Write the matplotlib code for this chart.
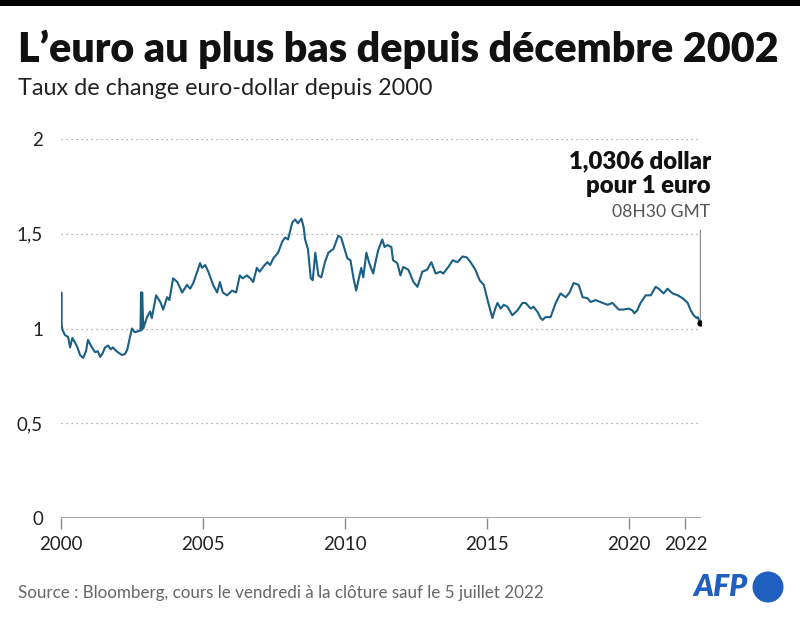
import matplotlib
matplotlib.use("Agg")
import matplotlib.pyplot as plt
from matplotlib.patches import Ellipse, Rectangle

# ---- data (decimal year, EUR/USD) ----
years = [2000.00, 2000.01, 2000.02, 2000.06, 2000.14, 2000.25, 2000.32, 2000.40, 2000.48,
         2000.58, 2000.67, 2000.78, 2000.88, 2000.95, 2001.09, 2001.20, 2001.30, 2001.38,
         2001.47, 2001.55, 2001.66, 2001.75, 2001.83, 2001.92, 2002.00, 2002.15, 2002.25,
         2002.33, 2002.43, 2002.50, 2002.60, 2002.70, 2002.80, 2002.82, 2002.83, 2002.86,
         2002.90, 2003.03, 2003.14, 2003.20, 2003.35, 2003.50, 2003.60, 2003.74, 2003.82,
         2003.95, 2004.10, 2004.27, 2004.44, 2004.55, 2004.66, 2004.80, 2004.90, 2004.97,
         2005.08, 2005.19, 2005.36, 2005.50, 2005.60, 2005.70, 2005.85, 2006.03, 2006.17,
         2006.30, 2006.40, 2006.55, 2006.67, 2006.77, 2006.90, 2007.00, 2007.15, 2007.27,
         2007.37, 2007.48, 2007.65, 2007.80, 2007.90, 2008.00, 2008.15, 2008.25, 2008.35,
         2008.47, 2008.55, 2008.60, 2008.70, 2008.80, 2008.87, 2008.96, 2009.07, 2009.17,
         2009.30, 2009.42, 2009.60, 2009.77, 2009.87, 2009.95, 2010.09, 2010.20, 2010.30,
         2010.40, 2010.48, 2010.58, 2010.65, 2010.76, 2010.86, 2011.00, 2011.08, 2011.18,
         2011.32, 2011.40, 2011.50, 2011.64, 2011.70, 2011.85, 2011.96, 2012.06, 2012.24,
         2012.42, 2012.56, 2012.73, 2012.90, 2013.05, 2013.20, 2013.37, 2013.47, 2013.65,
         2013.80, 2013.97, 2014.15, 2014.30, 2014.43, 2014.60, 2014.75, 2014.90, 2015.03,
         2015.20, 2015.30, 2015.38, 2015.49, 2015.60, 2015.73, 2015.90, 2016.08, 2016.26,
         2016.37, 2016.55, 2016.65, 2016.80, 2016.90, 2016.97, 2017.07, 2017.25, 2017.43,
         2017.60, 2017.78, 2017.92, 2018.06, 2018.24, 2018.38, 2018.55, 2018.66, 2018.84,
         2019.00, 2019.26, 2019.43, 2019.65, 2019.82, 2020.00, 2020.14, 2020.20, 2020.30,
         2020.42, 2020.60, 2020.78, 2020.95, 2021.06, 2021.23, 2021.37, 2021.55, 2021.73,
         2021.90, 2022.08, 2022.19, 2022.29, 2022.40, 2022.44, 2022.51]
rates = [1.02, 1.19, 1.02, 0.99, 0.965, 0.955, 0.90, 0.95, 0.93,
         0.90, 0.86, 0.845, 0.88, 0.94, 0.90, 0.875, 0.88, 0.85,
         0.87, 0.90, 0.91, 0.89, 0.90, 0.885, 0.875, 0.86, 0.865,
         0.886, 0.955, 1.00, 0.98, 0.985, 0.99, 1.19, 0.99, 1.19,
         1.00, 1.06, 1.09, 1.055, 1.175, 1.14, 1.10, 1.165, 1.15,
         1.265, 1.245, 1.19, 1.23, 1.21, 1.24, 1.30, 1.345, 1.32,
         1.335, 1.30, 1.23, 1.19, 1.245, 1.19, 1.175, 1.20, 1.19,
         1.28, 1.265, 1.28, 1.265, 1.245, 1.32, 1.30, 1.33, 1.35,
         1.335, 1.37, 1.40, 1.46, 1.48, 1.47, 1.56, 1.575, 1.555,
         1.58, 1.535, 1.47, 1.42, 1.265, 1.255, 1.40, 1.28, 1.27,
         1.35, 1.40, 1.42, 1.49, 1.48, 1.44, 1.37, 1.36, 1.27,
         1.20, 1.255, 1.32, 1.27, 1.40, 1.345, 1.29, 1.35, 1.415,
         1.47, 1.43, 1.44, 1.43, 1.36, 1.345, 1.28, 1.325, 1.31,
         1.245, 1.22, 1.30, 1.31, 1.35, 1.29, 1.30, 1.29, 1.325,
         1.36, 1.35, 1.38, 1.375, 1.35, 1.31, 1.255, 1.23, 1.15,
         1.055, 1.105, 1.135, 1.105, 1.125, 1.115, 1.07, 1.095, 1.135,
         1.135, 1.105, 1.115, 1.085, 1.055, 1.045, 1.06, 1.06, 1.135,
         1.185, 1.165, 1.19, 1.24, 1.23, 1.165, 1.16, 1.14, 1.15,
         1.14, 1.125, 1.135, 1.10, 1.10, 1.105, 1.095, 1.08, 1.095,
         1.135, 1.175, 1.175, 1.22, 1.21, 1.185, 1.21, 1.185, 1.175,
         1.16, 1.135, 1.095, 1.07, 1.055, 1.06, 1.0306]

xticks = [2000, 2005, 2010, 2015, 2020, 2022]
xtick_labels = ["2000", "2005", "2010", "2015", "2020", "2022"]
yticks = [0, 0.5, 1, 1.5, 2]
ytick_labels = ["0", "0,5", "1", "1,5", "2"]

title = "L\u2019euro au plus bas depuis décembre 2002"
subtitle = "Taux de change euro-dollar depuis 2000"
source = "Source : Bloomberg, cours le vendredi à la clôture sauf le 5 juillet 2022"
annot_line1 = "1,0306 dollar"
annot_line2 = "pour 1 euro"
annot_time = "08H30 GMT"

FONT = "Lato"
LINE = "#1a5f85"
BLUE = "#1f5fbf"
W, H = 800, 618

fig = plt.figure(figsize=(8, 6.18), dpi=100)
fig.patch.set_facecolor("white")

# top black band
fig.add_artist(Rectangle((0, 1 - 6 / H), 1, 6 / H, transform=fig.transFigure,
                         color="black", lw=0))

ax = fig.add_axes([61 / W, (H - 518) / H, 640 / W, 379 / H])
ax.set_xlim(2000, 2022.55)
ax.set_ylim(0, 2)
for s in ax.spines.values():
    s.set_visible(False)

for yv in yticks[1:]:
    ax.axhline(yv, color="#9a9a9a", lw=0.9, ls=(0, (1, 3)), zorder=1)
ax.axhline(0, color="#8a8a8a", lw=1.1, zorder=2)

ax.plot(years, rates, color=LINE, lw=1.5, zorder=3, solid_joinstyle="round")
ax.plot([years[-1]], [rates[-1]], "o", color="black", ms=3.5, zorder=4)
ax.plot([years[-1], years[-1]], [rates[-1], 1.52], color="#8a8a8a", lw=1, zorder=2)

ax.set_xticks(xticks)
ax.set_xticklabels(xtick_labels)
ax.set_yticks(yticks)
ax.set_yticklabels(ytick_labels)
ax.tick_params(axis="x", length=8, width=1, color="#8a8a8a", pad=5,
               labelsize=13.5, labelcolor="#222222")
ax.tick_params(axis="y", length=0, pad=13, labelsize=13.5, labelcolor="#222222")
for lab in ax.get_xticklabels() + ax.get_yticklabels():
    lab.set_fontfamily(FONT)

a1 = fig.text(711 / W, 1 - 168 / H, annot_line1, ha="right", va="baseline", fontsize=17,
              fontweight="heavy", family=FONT, color="#111111")
a2 = fig.text(711 / W, 1 - 193 / H, annot_line2, ha="right", va="baseline", fontsize=17,
              fontweight="heavy", family=FONT, color="#111111")
a3 = fig.text(710 / W, 1 - 217 / H, annot_time, ha="right", va="baseline", fontsize=13,
              family=FONT, color="#555555")

t = fig.text(18 / W, 1 - 62 / H, title, ha="left", va="baseline", fontsize=30,
             fontweight="heavy", family=FONT, color="#111111")
st = fig.text(18 / W, 1 - 95 / H, subtitle, ha="left", va="baseline", fontsize=15.5,
              family=FONT, color="#222222")
src = fig.text(18 / W, 1 - 598 / H, source, ha="left", va="baseline", fontsize=12,
               family=FONT, color="#666666")
logo = fig.text(748 / W, 1 - 596 / H, "AFP", ha="right", va="baseline", fontsize=18,
                fontweight="heavy", fontstyle="italic", family=FONT, color=BLUE)

# fit widths of texts to the reference
fig.canvas.draw()
r = fig.canvas.get_renderer()
for txt, target in [(t, 760), (st, 414), (src, 527), (a1, 142), (a3, 97), (logo, 54)]:
    w = txt.get_window_extent(r).width
    txt.set_fontsize(txt.get_fontsize() * target / w)
a2.set_fontsize(a1.get_fontsize())

fig.add_artist(Ellipse((768 / W, 1 - 587 / H), 31 / W, 31 / H, transform=fig.transFigure,
                       color=BLUE, lw=0))

fig.savefig("out.png", dpi=100)
